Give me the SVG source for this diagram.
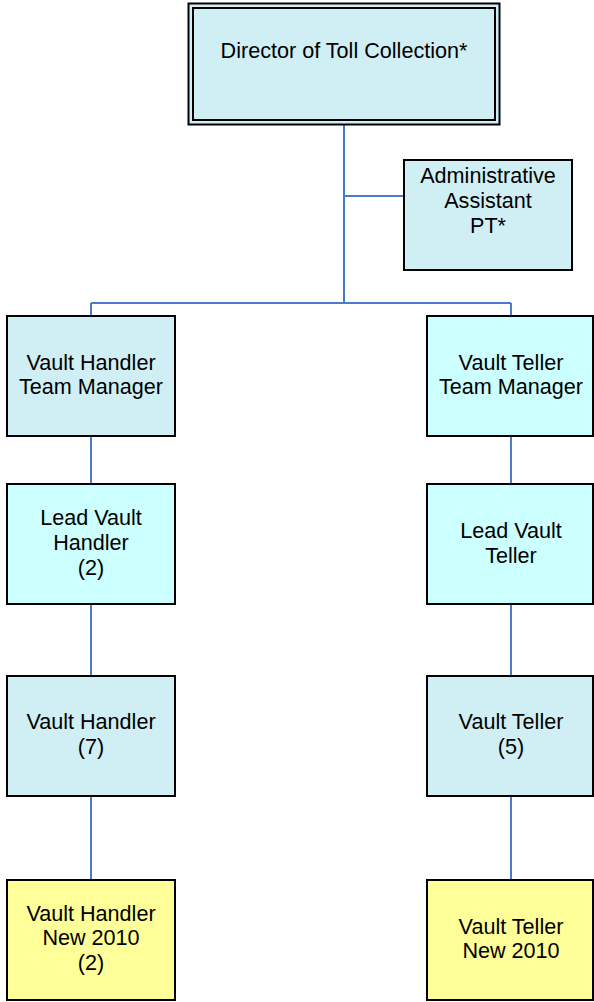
<svg xmlns="http://www.w3.org/2000/svg" width="594" height="1002" viewBox="0 0 594 1002">
<style>
.box{stroke:#000;stroke-width:2}
.b1{fill:#D0EFF5}
.b2{fill:#CCFFFF}
.y{fill:#FFFF99}
.t{font-family:"Liberation Sans",Arial,sans-serif;font-size:21.6px;fill:#000;text-anchor:middle}
.c{stroke:#4A7BC8;stroke-width:2;fill:none}
</style>
<rect width="594" height="1002" fill="#fff"/>
<g id="connectors">
<path class="c" d="M344 125V303M344 196H404M91 303H511M91 303V316M511 303V316"/>
<path class="c" d="M91 436V484M91 604V676M91 796V880"/>
<path class="c" d="M511 436V484M511 604V676M511 796V880"/>
</g>
<g id="director">
<rect x="188.5" y="3.5" width="311" height="121" fill="#D0EFF5" stroke="#000" stroke-width="2"/>
<rect x="193" y="8" width="302" height="112" fill="none" stroke="#000" stroke-width="2"/>
<text class="t" x="344" y="58">Director of Toll Collection*</text>
</g>
<g id="admin">
<rect class="box b1" x="404" y="160" width="168" height="110"/>
<text class="t" x="488" y="183">Administrative</text>
<text class="t" x="488" y="208">Assistant</text>
<text class="t" x="488" y="233">PT*</text>
</g>
<g id="vh-tm">
<rect class="box b1" x="7" y="316" width="168" height="120"/>
<text class="t" x="91" y="370">Vault Handler</text>
<text class="t" x="91" y="394">Team Manager</text>
</g>
<g id="vt-tm">
<rect class="box b2" x="427" y="316" width="166" height="120"/>
<text class="t" x="511" y="370">Vault Teller</text>
<text class="t" x="511" y="394">Team Manager</text>
</g>
<g id="lead-vh">
<rect class="box b2" x="7" y="484" width="168" height="120"/>
<text class="t" x="91" y="525">Lead Vault</text>
<text class="t" x="91" y="550">Handler</text>
<text class="t" x="91" y="575">(2)</text>
</g>
<g id="lead-vt">
<rect class="box b2" x="427" y="484" width="166" height="120"/>
<text class="t" x="511" y="538">Lead Vault</text>
<text class="t" x="511" y="563">Teller</text>
</g>
<g id="vh">
<rect class="box b1" x="7" y="676" width="168" height="120"/>
<text class="t" x="91" y="729">Vault Handler</text>
<text class="t" x="91" y="754">(7)</text>
</g>
<g id="vt">
<rect class="box b1" x="427" y="676" width="166" height="120"/>
<text class="t" x="511" y="729">Vault Teller</text>
<text class="t" x="511" y="754">(5)</text>
</g>
<g id="vh-new">
<rect class="box y" x="7" y="880" width="168" height="120"/>
<text class="t" x="91" y="921">Vault Handler</text>
<text class="t" x="91" y="945">New 2010</text>
<text class="t" x="91" y="970">(2)</text>
</g>
<g id="vt-new">
<rect class="box y" x="427" y="880" width="166" height="120"/>
<text class="t" x="511" y="934">Vault Teller</text>
<text class="t" x="511" y="958">New 2010</text>
</g>
</svg>
